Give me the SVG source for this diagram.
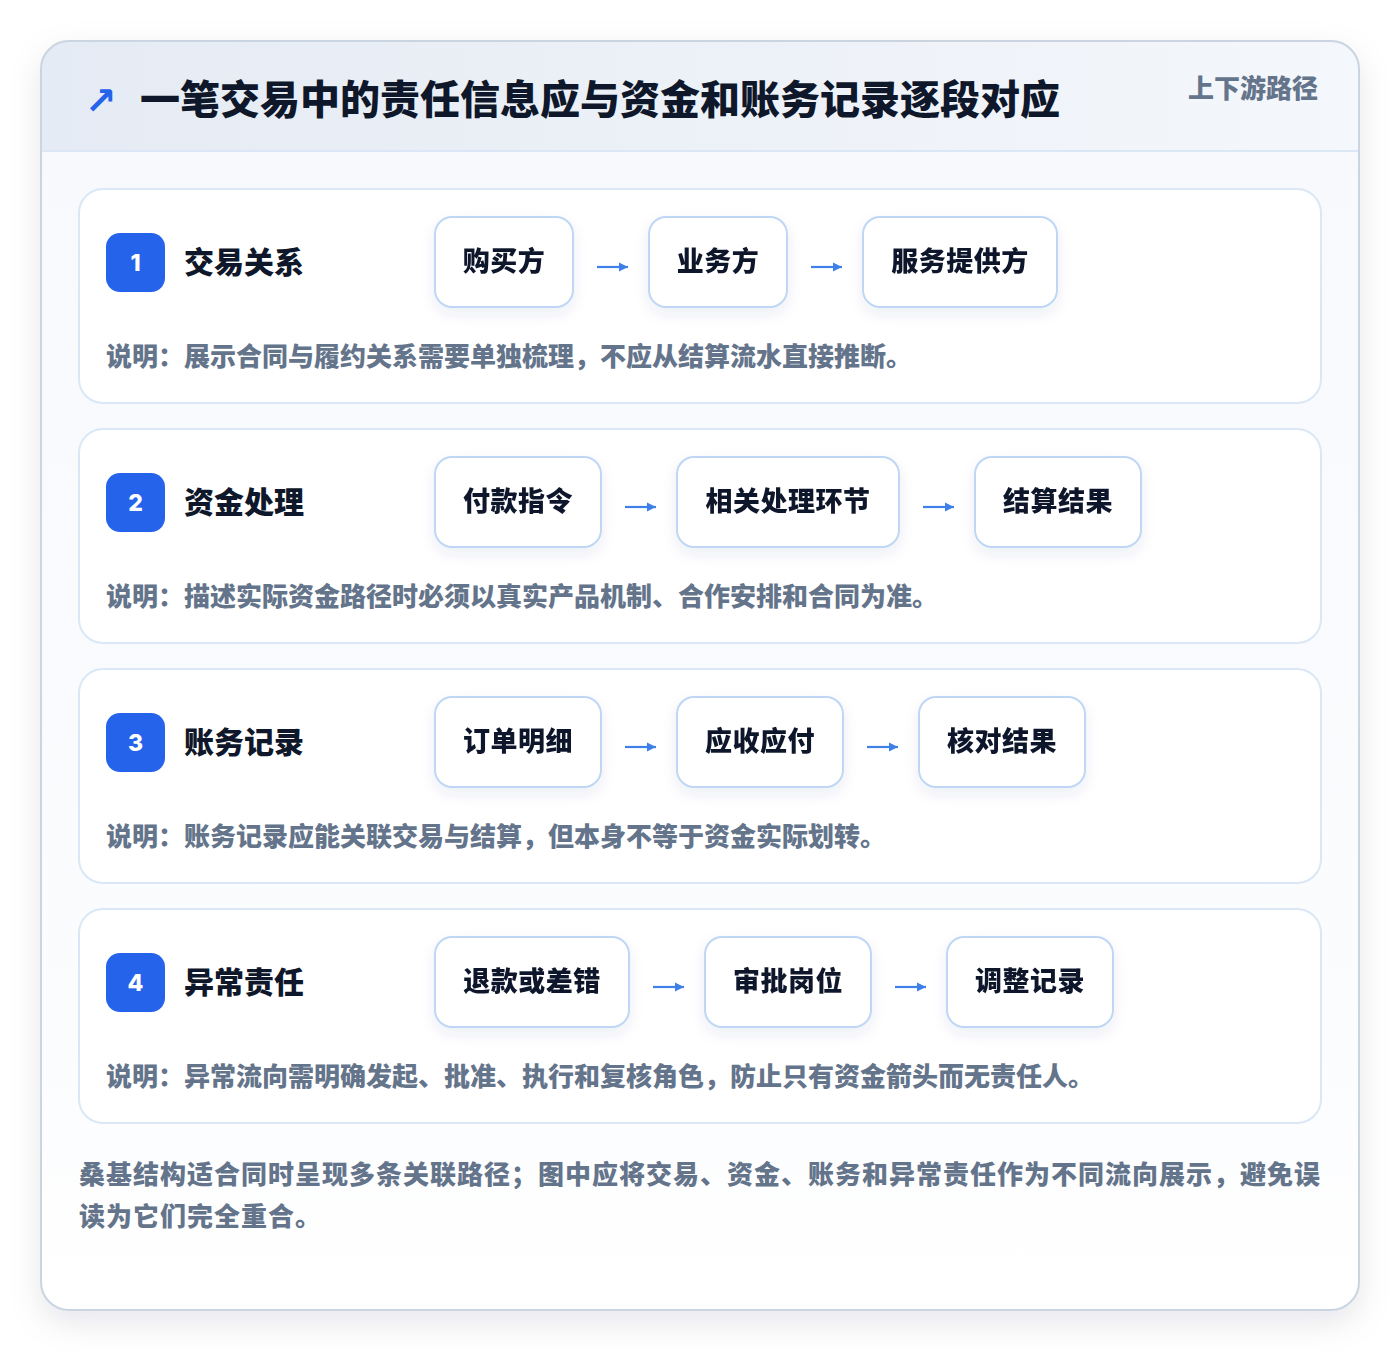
<svg xmlns="http://www.w3.org/2000/svg" width="1400" height="1352" viewBox="0 0 1400 1352">
<defs>
<linearGradient id="hdr" x1="0" y1="0" x2="1" y2="0">
<stop offset="0" stop-color="#e5ebf4"/>
<stop offset="1" stop-color="#f4f7fb"/>
</linearGradient>
<linearGradient id="body" x1="0" y1="0" x2="0" y2="1">
<stop offset="0" stop-color="#f7f9fc"/>
<stop offset="0.75" stop-color="#fbfcfe"/>
<stop offset="1" stop-color="#ffffff"/>
</linearGradient>
<filter id="cardShadow" x="-10%" y="-10%" width="120%" height="120%">
<feDropShadow dx="0" dy="12" stdDeviation="16" flood-color="#0f172a" flood-opacity="0.10"/>
</filter>
<filter id="boxShadow" x="-20%" y="-30%" width="140%" height="170%">
<feDropShadow dx="0" dy="6" stdDeviation="7" flood-color="#1e3a8a" flood-opacity="0.08"/>
</filter>
<clipPath id="cardClip"><rect x="41" y="41" width="1318" height="1269" rx="28"/></clipPath>
<marker id="ah" viewBox="0 0 12 12" refX="11" refY="6" markerWidth="12" markerHeight="12" markerUnits="userSpaceOnUse" orient="auto">
<path d="M2,1.5 L11,6 L2,10.5 Z" fill="#3f7fe8"/>
</marker>
</defs>
<style>
text{font-family:"Noto Sans CJK SC","Noto Sans",sans-serif;font-weight:900}
.title{font-size:40px;fill:#0f172a}
.tag{font-size:26px;fill:#64748b}
.sec{fill:#ffffff;stroke:#dbe7f6;stroke-width:2}
.badge{fill:#2563eb}
.num{font-family:Inter,"Noto Sans",sans-serif;font-size:23px;fill:#ffffff;text-anchor:middle;font-weight:800}
.lbl{font-size:30px;fill:#0f172a}
.box{fill:#ffffff;stroke:#bfd6f4;stroke-width:2}
.bt{font-size:27px;fill:#0f172a;text-anchor:middle;letter-spacing:0.5px}
.note{font-size:26px;fill:#64748b}
.foot{font-size:26px;fill:#64748b;letter-spacing:1px}
.conn{stroke:#3f7fe8;stroke-width:2.2;fill:none}
</style>
<rect x="0" y="0" width="1400" height="1352" fill="#ffffff"/>
<g id="card">
<rect x="41" y="41" width="1318" height="1269" rx="28" fill="#f8fafd" filter="url(#cardShadow)"/>
<g clip-path="url(#cardClip)">
<rect x="41" y="151" width="1318" height="1160" fill="url(#body)"/>
<rect x="41" y="41" width="1318" height="110" fill="url(#hdr)"/>
<line x1="41" y1="151" x2="1359" y2="151" stroke="#dbe7f6" stroke-width="2"/>
</g>
<rect x="41" y="41" width="1318" height="1269" rx="28" fill="none" stroke="#cbd5e1" stroke-width="2"/>
</g>
<g id="header">
<text x="85" y="114" style="font-family:'DejaVu Sans',sans-serif;font-size:38px;fill:#2563eb;font-weight:700">↗</text>
<text class="title" x="140" y="114">一笔交易中的责任信息应与资金和账务记录逐段对应</text>
<text class="tag" x="1318" y="98" text-anchor="end">上下游路径</text>
</g>
<g id="section1">
<rect class="sec" x="79" y="189" width="1242" height="214" rx="24"/>
<rect class="badge" x="106" y="233" width="59" height="59" rx="14"/>
<text class="num" x="135.5" y="270.5">1</text>
<text class="lbl" x="184" y="273">交易关系</text>
<text class="note" x="106" y="366">说明：展示合同与履约关系需要单独梳理，不应从结算流水直接推断。</text>
</g>
<g id="node-1a" filter="url(#boxShadow)"><rect class="box" x="435" y="217" width="138" height="90" rx="17"/><text class="bt" x="504" y="271">购买方</text></g>
<g id="node-1b" filter="url(#boxShadow)"><rect class="box" x="649" y="217" width="138" height="90" rx="17"/><text class="bt" x="718" y="271">业务方</text></g>
<g id="node-1c" filter="url(#boxShadow)"><rect class="box" x="863" y="217" width="194" height="90" rx="17"/><text class="bt" x="960" y="271">服务提供方</text></g>

<g id="section2">
<rect class="sec" x="79" y="429" width="1242" height="214" rx="24"/>
<rect class="badge" x="106" y="473" width="59" height="59" rx="14"/>
<text class="num" x="135.5" y="510.5">2</text>
<text class="lbl" x="184" y="513">资金处理</text>
<text class="note" x="106" y="606">说明：描述实际资金路径时必须以真实产品机制、合作安排和合同为准。</text>
</g>
<g id="node-2a" filter="url(#boxShadow)"><rect class="box" x="435" y="457" width="166" height="90" rx="17"/><text class="bt" x="518" y="511">付款指令</text></g>
<g id="node-2b" filter="url(#boxShadow)"><rect class="box" x="677" y="457" width="222" height="90" rx="17"/><text class="bt" x="788" y="511">相关处理环节</text></g>
<g id="node-2c" filter="url(#boxShadow)"><rect class="box" x="975" y="457" width="166" height="90" rx="17"/><text class="bt" x="1058" y="511">结算结果</text></g>

<g id="section3">
<rect class="sec" x="79" y="669" width="1242" height="214" rx="24"/>
<rect class="badge" x="106" y="713" width="59" height="59" rx="14"/>
<text class="num" x="135.5" y="750.5">3</text>
<text class="lbl" x="184" y="753">账务记录</text>
<text class="note" x="106" y="846">说明：账务记录应能关联交易与结算，但本身不等于资金实际划转。</text>
</g>
<g id="node-3a" filter="url(#boxShadow)"><rect class="box" x="435" y="697" width="166" height="90" rx="17"/><text class="bt" x="518" y="751">订单明细</text></g>
<g id="node-3b" filter="url(#boxShadow)"><rect class="box" x="677" y="697" width="166" height="90" rx="17"/><text class="bt" x="760" y="751">应收应付</text></g>
<g id="node-3c" filter="url(#boxShadow)"><rect class="box" x="919" y="697" width="166" height="90" rx="17"/><text class="bt" x="1002" y="751">核对结果</text></g>

<g id="section4">
<rect class="sec" x="79" y="909" width="1242" height="214" rx="24"/>
<rect class="badge" x="106" y="953" width="59" height="59" rx="14"/>
<text class="num" x="135.5" y="990.5">4</text>
<text class="lbl" x="184" y="993">异常责任</text>
<text class="note" x="106" y="1086">说明：异常流向需明确发起、批准、执行和复核角色，防止只有资金箭头而无责任人。</text>
</g>
<g id="node-4a" filter="url(#boxShadow)"><rect class="box" x="435" y="937" width="194" height="90" rx="17"/><text class="bt" x="532" y="991">退款或差错</text></g>
<g id="node-4b" filter="url(#boxShadow)"><rect class="box" x="705" y="937" width="166" height="90" rx="17"/><text class="bt" x="788" y="991">审批岗位</text></g>
<g id="node-4c" filter="url(#boxShadow)"><rect class="box" x="947" y="937" width="166" height="90" rx="17"/><text class="bt" x="1030" y="991">调整记录</text></g>

<g id="connectors">
<path class="conn" d="M597,267 H628" marker-end="url(#ah)"/>
<path class="conn" d="M811,267 H842" marker-end="url(#ah)"/>
<path class="conn" d="M625,507 H656" marker-end="url(#ah)"/>
<path class="conn" d="M923,507 H954" marker-end="url(#ah)"/>
<path class="conn" d="M625,747 H656" marker-end="url(#ah)"/>
<path class="conn" d="M867,747 H898" marker-end="url(#ah)"/>
<path class="conn" d="M653,987 H684" marker-end="url(#ah)"/>
<path class="conn" d="M895,987 H926" marker-end="url(#ah)"/>
</g>
<g id="footer">
<text class="foot" x="79" y="1184">桑基结构适合同时呈现多条关联路径；图中应将交易、资金、账务和异常责任作为不同流向展示，避免误</text>
<text class="foot" x="79" y="1226">读为它们完全重合。</text>
</g>
</svg>
